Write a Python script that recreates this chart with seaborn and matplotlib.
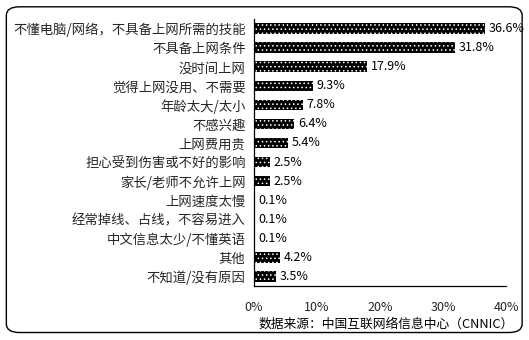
import matplotlib
matplotlib.use("Agg")
import matplotlib.pyplot as plt
import seaborn as sns
import pandas as pd
from matplotlib.patches import FancyBboxPatch
from matplotlib.ticker import FixedLocator, FuncFormatter

categories = [
    "不懂电脑/网络，不具备上网所需的技能",
    "不具备上网条件",
    "没时间上网",
    "觉得上网没用、不需要",
    "年龄太大/太小",
    "不感兴趣",
    "上网费用贵",
    "担心受到伤害或不好的影响",
    "家长/老师不允许上网",
    "上网速度太慢",
    "经常掉线、占线，不容易进入",
    "中文信息太少/不懂英语",
    "其他",
    "不知道/没有原因",
]
values = [36.6, 31.8, 17.9, 9.3, 7.8, 6.4, 5.4, 2.5, 2.5, 0.1, 0.1, 0.1, 4.2, 3.5]
x_ticks = [0, 10, 20, 30, 40]
source = "数据来源：中国互联网络信息中心（CNNIC）"

sns.set_theme(style="white")
plt.rcParams['font.family'] = ['Noto Sans CJK SC', 'DejaVu Sans']
plt.rcParams['hatch.linewidth'] = 0.6

df = pd.DataFrame({"cat": categories, "val": values})

fig = plt.figure(figsize=(5.29, 3.40), dpi=100)
ax = fig.add_axes([0.480, 0.159, 0.477, 0.785])

sns.barplot(data=df, x="val", y="cat", orient="h", ax=ax, color="black",
            width=0.55, saturation=1)
for p in ax.patches:
    p.set_facecolor("black")
    p.set_edgecolor("white")
    p.set_hatch("....")
    p.set_linewidth(0)

for i, v in enumerate(values):
    ax.text(v + 0.6, i, f"{v}%", va="center", ha="left", fontsize=9, color="black")

ax.set_xlim(0, 40)
ax.set_ylim(len(categories) - 0.5, -0.5)
ax.set_xlabel("")
ax.set_ylabel("")
ax.xaxis.set_major_locator(FixedLocator(x_ticks))
ax.xaxis.set_major_formatter(FuncFormatter(lambda v, p: f"{int(v)}%"))
ax.tick_params(axis="x", direction="in", length=4, width=0.8, color="black",
               labelsize=9, pad=11)
ax.tick_params(axis="y", which="major", length=0, labelsize=9.6, pad=6)
ax.set_yticks([i - 0.5 for i in range(len(categories) + 1)], minor=True)
ax.tick_params(axis="y", which="minor", direction="in", length=4, width=0.8,
               color="black")
for side in ["top", "right"]:
    ax.spines[side].set_visible(False)
for side in ["left", "bottom"]:
    ax.spines[side].set_color("black")
    ax.spines[side].set_linewidth(0.9)

fig.text(0.972, 0.045, source, ha="right", va="center", fontsize=9.2, color="black")

box = FancyBboxPatch((0.012, 0.022), 0.975, 0.958, boxstyle="round,pad=0,rounding_size=0.025",
                     transform=fig.transFigure, fill=False, edgecolor="black",
                     linewidth=1.0)
fig.patches.append(box)

fig.savefig("out.png", dpi=100)
